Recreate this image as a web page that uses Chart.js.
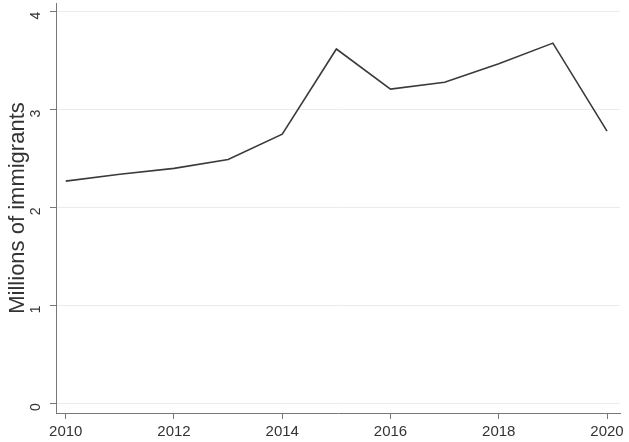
<!DOCTYPE html>
<html>
<head>
<meta charset="utf-8">
<script src="https://cdn.jsdelivr.net/npm/chart.js@4/dist/chart.umd.min.js"></script>
<style>
  html, body { margin: 0; padding: 0; background: #fff; }
  #wrap { width: 629px; height: 442px; }
</style>
</head>
<body>
<div id="wrap"><canvas id="immigrants-chart" width="629" height="442"></canvas></div>
<script>
var years = [2010, 2011, 2012, 2013, 2014, 2015, 2016, 2017, 2018, 2019, 2020]
var immigrants = [2.27, 2.34, 2.40, 2.49, 2.75, 3.62, 3.21, 3.28, 3.47, 3.68, 2.78]
var xTicks = [2010, 2012, 2014, 2016, 2018, 2020]
var yTicks = [0, 1, 2, 3, 4]

var fontFamily = "'Liberation Sans', Arial, sans-serif"

const ctx = document.getElementById('immigrants-chart').getContext('2d')
const points = years.map(function(y, i){ return { x: y, y: immigrants[i] } })

const config = {
    type: 'line',
    data: {
        datasets: [{
            data: points,
            borderColor: '#3a3a3a',
            borderWidth: 1.6,
            pointRadius: 0,
            tension: 0,
            fill: false
        }]
    },
    options: {
        responsive: false,
        animation: false,
        layout: {
            padding: { left: 0, right: 9, top: 3, bottom: 0 }
        },
        plugins: {
            legend: { display: false },
            tooltip: { enabled: false }
        },
        scales: {
            x: {
                type: 'linear',
                min: 2009.82,
                max: 2020.24,
                afterBuildTicks: function(axis){
                    axis.ticks = xTicks.map(function(v){ return { value: v } })
                },
                afterFit: function(axis){
                    axis.height = 29
                    axis.paddingLeft = 0
                },
                border: { color: '#777', width: 1 },
                grid: {
                    drawOnChartArea: false,
                    drawTicks: true,
                    tickLength: 6,
                    tickColor: '#777'
                },
                ticks: {
                    color: '#333',
                    font: { family: fontFamily, size: 15 },
                    padding: 4,
                    maxRotation: 0,
                    callback: function(v){ return String(v) }
                }
            },
            y: {
                min: -0.1,
                max: 4.09,
                afterBuildTicks: function(axis){
                    axis.ticks = yTicks.map(function(v){ return { value: v } })
                },
                afterFit: function(axis){
                    axis.width = 56
                    axis.paddingTop = 0
                    axis.paddingBottom = 0
                },
                border: { color: '#777', width: 1 },
                grid: {
                    color: '#ebebeb',
                    lineWidth: 1,
                    drawTicks: true,
                    tickLength: 6,
                    tickColor: '#777'
                },
                title: {
                    display: true,
                    text: 'Millions of immigrants',
                    color: '#333',
                    font: { family: fontFamily, size: 22 },
                    padding: { top: 5, bottom: 0 }
                },
                ticks: {
                    color: '#333',
                    font: { family: fontFamily, size: 14 },
                    padding: 14,
                    minRotation: 90,
                    maxRotation: 90
                }
            }
        }
    }
}
const myChart = new Chart(ctx, config)
</script>
</body>
</html>
